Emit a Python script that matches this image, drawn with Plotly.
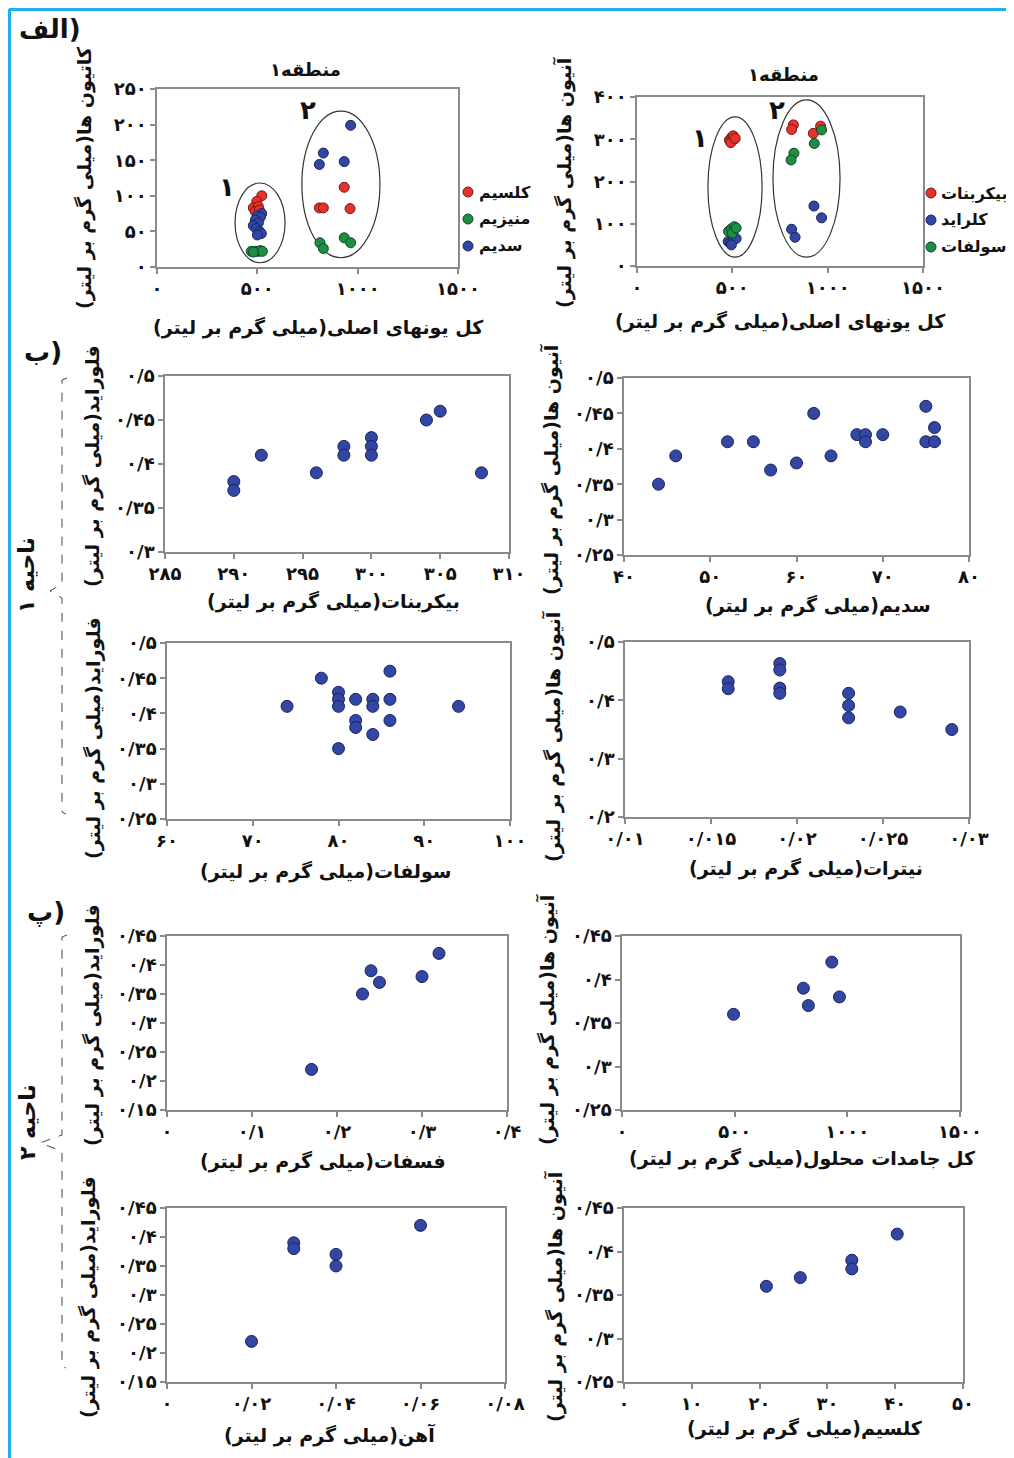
import plotly.graph_objects as go

W, H = 1014, 1458
OX, OY = 8, 8  # page offset of the figure inside the browser window
FONT = "DejaVu Sans"
BLUE, BLUE_L = "#3446a3", "#18245e"
RED, RED_L = "#e5322b", "#7a1512"
GREEN, GREEN_L = "#1f8d46", "#0c4a22"
AXC = "#8a8a8a"

# ---------------- data ----------------
# Panel A-left: total major ions vs cations (mg/L)
a1_ca_x = [522, 497, 480, 505, 490, 510, 809, 829, 933, 962]
a1_ca_y = [100, 92, 83, 85, 78, 80, 83, 83, 112, 82]
a1_mg_x = [470, 490, 505, 515, 525, 480, 812, 829, 933, 965]
a1_mg_y = [22, 22, 22, 23, 22, 21, 34, 26, 41, 34]
a1_na_x = [522, 500, 515, 490, 505, 480, 495, 510, 520, 500, 965, 829, 809, 933]
a1_na_y = [75, 72, 70, 66, 62, 58, 54, 50, 47, 45, 199, 160, 144, 148]

# Panel A-right: total major ions vs anions (mg/L)
a2_hco3_x = [485, 497, 510, 492, 505, 515, 820, 811, 963, 925]
a2_hco3_y = [298, 305, 300, 292, 308, 302, 334, 323, 331, 314]
a2_cl_x = [478, 490, 505, 520, 495, 928, 968, 811, 829]
a2_cl_y = [58, 55, 62, 65, 50, 142, 114, 87, 68]
a2_so4_x = [480, 495, 510, 500, 520, 823, 808, 930, 968]
a2_so4_y = [82, 88, 93, 78, 90, 267, 251, 290, 322]

# legend entries
a1_names = ["کلسیم", "منیزیم", "سدیم"]
a2_names = ["بیکربنات", "کلراید", "سولفات"]

# Region 1: fluoride vs bicarbonate / sodium / sulfate / nitrate
b1_x = [290, 290, 292, 296, 298, 298, 300, 300, 300, 304, 305, 308]
b1_y = [0.38, 0.37, 0.41, 0.39, 0.42, 0.41, 0.43, 0.42, 0.41, 0.45, 0.46, 0.39]
b2_x = [44, 46, 52, 55, 57, 60, 62, 64, 67, 68, 68, 70, 75, 75, 76, 76]
b2_y = [0.35, 0.39, 0.41, 0.41, 0.37, 0.38, 0.45, 0.39, 0.42, 0.42, 0.41, 0.42, 0.46, 0.41, 0.41, 0.43]
c1_x = [74, 78, 80, 80, 80, 80, 82, 82, 82, 84, 84, 84, 86, 86, 86, 94]
c1_y = [0.41, 0.45, 0.43, 0.42, 0.41, 0.35, 0.42, 0.39, 0.38, 0.42, 0.41, 0.37, 0.46, 0.42, 0.39, 0.41]
c2_x = [0.016, 0.016, 0.019, 0.019, 0.019, 0.019, 0.023, 0.023, 0.023, 0.026, 0.029]
c2_y = [0.432, 0.42, 0.463, 0.452, 0.421, 0.412, 0.412, 0.391, 0.37, 0.38, 0.35]

# Region 2: fluoride vs phosphate / TDS / iron / calcium
d1_x = [0.17, 0.23, 0.24, 0.25, 0.30, 0.32]
d1_y = [0.22, 0.35, 0.39, 0.37, 0.38, 0.42]
d2_x = [495, 805, 827, 931, 965]
d2_y = [0.36, 0.39, 0.37, 0.42, 0.38]
e1_x = [0.02, 0.03, 0.03, 0.04, 0.04, 0.06]
e1_y = [0.22, 0.39, 0.38, 0.37, 0.35, 0.42]
e2_x = [21, 26, 33.6, 33.6, 40.3]
e2_y = [0.36, 0.37, 0.39, 0.38, 0.42]

# tick values / labels
ions_ticks = [0, 500, 1000, 1500]
ions_labels = ["۰", "۵۰۰", "۱۰۰۰", "۱۵۰۰"]
cat_ticks = [0, 50, 100, 150, 200, 250]
cat_labels = ["۰", "۵۰", "۱۰۰", "۱۵۰", "۲۰۰", "۲۵۰"]
an_ticks = [0, 100, 200, 300, 400]
an_labels = ["۰", "۱۰۰", "۲۰۰", "۳۰۰", "۴۰۰"]
hco3_ticks = [285, 290, 295, 300, 305, 310]
hco3_labels = ["۲۸۵", "۲۹۰", "۲۹۵", "۳۰۰", "۳۰۵", "۳۱۰"]
f30_ticks = [0.3, 0.35, 0.4, 0.45, 0.5]
f30_labels = ["۰/۳", "۰/۳۵", "۰/۴", "۰/۴۵", "۰/۵"]
f25_ticks = [0.25, 0.3, 0.35, 0.4, 0.45, 0.5]
f25_labels = ["۰/۲۵", "۰/۳", "۰/۳۵", "۰/۴", "۰/۴۵", "۰/۵"]
na_ticks = [40, 50, 60, 70, 80]
na_labels = ["۴۰", "۵۰", "۶۰", "۷۰", "۸۰"]
so4_ticks = [60, 70, 80, 90, 100]
so4_labels = ["۶۰", "۷۰", "۸۰", "۹۰", "۱۰۰"]
f20_ticks = [0.2, 0.3, 0.4, 0.5]
f20_labels = ["۰/۲", "۰/۳", "۰/۴", "۰/۵"]
no3_ticks = [0.01, 0.015, 0.02, 0.025, 0.03]
no3_labels = ["۰/۰۱", "۰/۰۱۵", "۰/۰۲", "۰/۰۲۵", "۰/۰۳"]
f15_ticks = [0.15, 0.2, 0.25, 0.3, 0.35, 0.4, 0.45]
f15_labels = ["۰/۱۵", "۰/۲", "۰/۲۵", "۰/۳", "۰/۳۵", "۰/۴", "۰/۴۵"]
po4_ticks = [0, 0.1, 0.2, 0.3, 0.4]
po4_labels = ["۰", "۰/۱", "۰/۲", "۰/۳", "۰/۴"]
f25b_ticks = [0.25, 0.3, 0.35, 0.4, 0.45]
f25b_labels = ["۰/۲۵", "۰/۳", "۰/۳۵", "۰/۴", "۰/۴۵"]
fe_ticks = [0, 0.02, 0.04, 0.06, 0.08]
fe_labels = ["۰", "۰/۰۲", "۰/۰۴", "۰/۰۶", "۰/۰۸"]
ca_ticks = [0, 10, 20, 30, 40, 50]
ca_labels = ["۰", "۱۰", "۲۰", "۳۰", "۴۰", "۵۰"]

UNIT = "(میلی گرم بر لیتر)"
RLM = "\u200f"


def rtl(s):
    return RLM + s + RLM


def px(x):
    return (x - OX) / W


def py(y):
    return 1 - (y - OY) / H


fig = go.Figure()
layout = {}
annotations = []
shapes = []


def axes(i, xpx, ypx, xr, yr, xt, xl, yt, yl):
    sfx = "" if i == 1 else str(i)
    common = dict(showline=True, mirror=True, linecolor=AXC, linewidth=1.5,
                  ticks="outside", ticklen=5, tickcolor=AXC, tickwidth=1.5,
                  showgrid=False, zeroline=False, fixedrange=True, automargin=False,
                  tickfont=dict(family=FONT, size=18, color="#111", weight="bold"))
    layout["xaxis" + sfx] = dict(common, domain=[px(xpx[0]), px(xpx[1])], range=xr,
                                 tickvals=xt, ticktext=xl, anchor="y" + sfx)
    layout["yaxis" + sfx] = dict(common, domain=[py(ypx[1]), py(ypx[0])], range=yr,
                                 tickvals=yt, ticktext=yl, anchor="x" + sfx)
    return "x" + sfx, "y" + sfx


def pts(xa, ya, x, y, color, line, size=12, name=None):
    fig.add_trace(go.Scatter(
        x=x, y=y, xaxis=xa, yaxis=ya, mode="markers", name=name, showlegend=False,
        marker=dict(size=size, color=color, line=dict(color=line, width=1)),
        hoverinfo="x+y"))


def text(x, y, s, size=18, angle=0, bold=False, anchor="center"):
    annotations.append(dict(x=px(x), y=py(y), xref="paper", yref="paper", text=s,
                            showarrow=False, textangle=angle, xanchor=anchor,
                            yanchor="middle",
                            font=dict(family=FONT, size=size, color="#111",
                                      weight="bold" if bold else "normal")))


def titles(xc, yc, xtitle, yxc, yyc, ytitle):
    text(xc, yc, rtl(xtitle), size=19, bold=True)
    text(yxc, yyc, rtl(ytitle), size=19, angle=-90, bold=True)


def legend_items(mx, ys, names, colors, lines, tx):
    for yy, nm, c, lc in zip(ys, names, colors, lines):
        shapes.append(dict(type="circle", xref="paper", yref="paper",
                           x0=px(mx - 5), x1=px(mx + 5), y0=py(yy + 5), y1=py(yy - 5),
                           fillcolor=c, line=dict(color=lc, width=1)))
        text(tx, yy, rtl(nm), size=16, bold=True, anchor="left")


# ---- Panel A-left
xa, ya = axes(1, (157, 458), (89, 267), [0, 1500], [0, 250],
              ions_ticks, ions_labels, cat_ticks, cat_labels)
pts(xa, ya, a1_ca_x, a1_ca_y, RED, RED_L, 10, a1_names[0])
pts(xa, ya, a1_mg_x, a1_mg_y, GREEN, GREEN_L, 10, a1_names[1])
pts(xa, ya, a1_na_x, a1_na_y, BLUE, BLUE_L, 10, a1_names[2])
shapes.append(dict(type="circle", xref=xa, yref=ya, x0=389, x1=638, y0=6, y1=118,
                   line=dict(color="#333", width=1.2), layer="below"))
shapes.append(dict(type="circle", xref=xa, yref=ya, x0=722, x1=1111, y0=13, y1=219,
                   line=dict(color="#333", width=1.2), layer="below"))
titles(318, 328, "کل یونهای اصلی" + UNIT, 85, 178, "کاتیون ها" + UNIT)
text(305, 69, rtl("منطقه۱"), size=18, bold=True)
text(227, 187, "۱", size=26, bold=True)
text(308, 110, "۲", size=26, bold=True)
legend_items(468, [192, 219, 246], a1_names, [RED, GREEN, BLUE],
             [RED_L, GREEN_L, BLUE_L], 477)

# ---- Panel A-right
xa, ya = axes(2, (637, 923), (97, 266), [0, 1500], [0, 400],
              ions_ticks, ions_labels, an_ticks, an_labels)
pts(xa, ya, a2_hco3_x, a2_hco3_y, RED, RED_L, 10, a2_names[0])
pts(xa, ya, a2_cl_x, a2_cl_y, BLUE, BLUE_L, 10, a2_names[1])
pts(xa, ya, a2_so4_x, a2_so4_y, GREEN, GREEN_L, 10, a2_names[2])
shapes.append(dict(type="circle", xref=xa, yref=ya, x0=372, x1=656, y0=21, y1=353,
                   line=dict(color="#333", width=1.2), layer="below"))
shapes.append(dict(type="circle", xref=xa, yref=ya, x0=713, x1=1065, y0=21, y1=393,
                   line=dict(color="#333", width=1.2), layer="below"))
titles(780, 321, "کل یونهای اصلی" + UNIT, 564, 183, "آنیون ها" + UNIT)
text(783, 74, rtl("منطقه۱"), size=18, bold=True)
text(700, 138, "۱", size=26, bold=True)
text(777, 110, "۲", size=26, bold=True)
legend_items(931, [193, 220, 247], a2_names, [RED, BLUE, GREEN],
             [RED_L, BLUE_L, GREEN_L], 939)

# ---- Region 1
xa, ya = axes(3, (165, 509), (376, 552), [285, 310], [0.3, 0.5],
              hco3_ticks, hco3_labels, f30_ticks, f30_labels)
pts(xa, ya, b1_x, b1_y, BLUE, BLUE_L)
titles(333, 601, "بیکربنات" + UNIT, 93, 466, "فلوراید" + UNIT)

xa, ya = axes(4, (624, 969), (378, 555), [40, 80], [0.25, 0.5],
              na_ticks, na_labels, f25_ticks, f25_labels)
pts(xa, ya, b2_x, b2_y, BLUE, BLUE_L)
titles(818, 605, "سدیم" + UNIT, 551, 470, "آنیون ها" + UNIT)

xa, ya = axes(5, (167, 510), (643, 819), [60, 100], [0.25, 0.5],
              so4_ticks, so4_labels, f25_ticks, f25_labels)
pts(xa, ya, c1_x, c1_y, BLUE, BLUE_L)
titles(326, 871, "سولفات" + UNIT, 93, 738, "فلوراید" + UNIT)

xa, ya = axes(6, (625, 969), (642, 817), [0.01, 0.03], [0.2, 0.5],
              no3_ticks, no3_labels, f20_ticks, f20_labels)
pts(xa, ya, c2_x, c2_y, BLUE, BLUE_L)
titles(806, 868, "نیترات" + UNIT, 553, 737, "آنیون ها" + UNIT)

# ---- Region 2
xa, ya = axes(7, (167, 507), (936, 1110), [0, 0.4], [0.15, 0.45],
              po4_ticks, po4_labels, f15_ticks, f15_labels)
pts(xa, ya, d1_x, d1_y, BLUE, BLUE_L)
titles(323, 1161, "فسفات" + UNIT, 92, 1025, "فلوراید" + UNIT)

xa, ya = axes(8, (622, 960), (936, 1110), [0, 1500], [0.25, 0.45],
              ions_ticks, ions_labels, f25b_ticks, f25b_labels)
pts(xa, ya, d2_x, d2_y, BLUE, BLUE_L)
titles(802, 1158, "کل جامدات محلول" + UNIT, 547, 1020, "آنیون ها" + UNIT)

xa, ya = axes(9, (167, 505), (1208, 1382), [0, 0.08], [0.15, 0.45],
              fe_ticks, fe_labels, f15_ticks, f15_labels)
pts(xa, ya, e1_x, e1_y, BLUE, BLUE_L)
titles(329, 1435, "آهن" + UNIT, 88, 1297, "فلوراید" + UNIT)

xa, ya = axes(10, (624, 963), (1208, 1382), [0, 50], [0.25, 0.45],
              ca_ticks, ca_labels, f25b_ticks, f25b_labels)
pts(xa, ya, e2_x, e2_y, BLUE, BLUE_L)
titles(805, 1428, "کلسیم" + UNIT, 555, 1297, "آنیون ها" + UNIT)

# ---- panel labels / region labels
text(50, 29, "الف)", size=26, bold=True)
text(43, 352, "ب)", size=26, bold=True)
text(46, 912, "پ)", size=26, bold=True)
text(27, 575, rtl("ناحیه ۱"), size=22, angle=-90, bold=True)
text(27, 1122, rtl("ناحیه ۲"), size=22, angle=-90, bold=True)


# ---- dashed brackets
def dash_path(pts_list):
    d = "M " + " L ".join(f"{px(a):.5f},{py(b):.5f}" for a, b in pts_list)
    shapes.append(dict(type="path", xref="paper", yref="paper", path=d,
                       line=dict(color="#444", width=1, dash="dash")))


dash_path([(67, 378), (62, 380), (62, 584), (50, 591), (62, 598), (62, 812), (66, 814)])
dash_path([(67, 935), (62, 937), (62, 1135), (40, 1143), (62, 1151), (62, 1366), (66, 1368)])

# ---- blue frame (top and left)
shapes.append(dict(type="line", xref="paper", yref="paper", x0=px(9), x1=px(1030),
                   y0=py(9.5), y1=py(9.5), line=dict(color="#1ab2e8", width=3)))
shapes.append(dict(type="line", xref="paper", yref="paper", x0=px(9.5), x1=px(9.5),
                   y0=py(9), y1=py(1470), line=dict(color="#1ab2e8", width=3)))

fig.update_layout(**layout)
fig.update_layout(width=W, height=H, showlegend=False,
                  margin=dict(l=0, r=0, t=0, b=0, pad=0, autoexpand=False),
                  paper_bgcolor="white", plot_bgcolor="white",
                  annotations=annotations, shapes=shapes,
                  font=dict(family=FONT, color="#111"))
fig.write_html("out.html")
